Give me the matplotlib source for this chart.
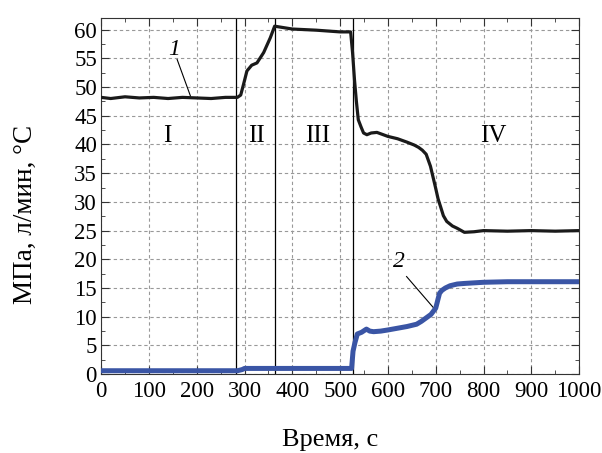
import numpy as np
import matplotlib.pyplot as plt
from matplotlib.ticker import MultipleLocator

plt.rcParams['font.family'] = ['Liberation Serif', 'DejaVu Serif']

# curve 1 (black)
t1 = [0, 20, 50, 80, 110, 140, 170, 200, 230, 260, 285, 292, 298, 305, 315, 326,
      340, 354, 363, 370, 400, 450, 500, 522, 526, 530, 534, 538, 544, 549, 556,
      565, 577, 600, 620, 640, 655, 664, 672, 680, 689, 699, 705, 710, 716, 723,
      735, 745, 760, 780, 800, 850, 900, 950, 1000]
v1 = [48.2, 48.0, 48.3, 48.1, 48.2, 48.0, 48.2, 48.1, 48.0, 48.2, 48.2, 48.6, 50.5, 52.8, 53.8, 54.2,
      56.0, 58.6, 60.6, 60.5, 60.1, 59.9, 59.6, 59.6, 56.0, 51.3, 47.5, 44.3, 43.0, 42.0, 41.7,
      42.0, 42.1, 41.4, 41.0, 40.4, 39.9, 39.5, 39.0, 38.3, 36.2, 32.7, 30.5, 29.2, 27.6, 26.6,
      25.8, 25.4, 24.7, 24.8, 25.0, 24.9, 25.0, 24.9, 25.0]

# curve 2 (blue)
t2 = [0, 100, 200, 285, 295, 300, 400, 500, 524, 527, 531, 536, 545, 555, 562, 570,
      585, 600, 620, 640, 660, 670, 680, 690, 700, 704, 708, 713, 720, 730, 745,
      760, 800, 850, 900, 950, 1000]
v2 = [0.6, 0.6, 0.6, 0.6, 0.8, 1.0, 1.0, 1.0, 1.0, 4.0, 5.5, 7.0, 7.3, 7.85, 7.5, 7.4,
      7.5, 7.7, 8.0, 8.3, 8.7, 9.2, 9.8, 10.4, 11.5, 12.8, 14.1, 14.6, 15.0, 15.4, 15.7,
      15.8, 16.0, 16.1, 16.1, 16.1, 16.1]

boundaries = [283, 363, 526]
zone_names = ['I', 'II', 'III', 'IV']
zone_x = [138, 326, 452, 821]
zone_y = 41.4

fig = plt.figure(figsize=(6.02, 4.53), dpi=100)
ax = fig.add_axes([0.168, 0.174, 0.794, 0.786])

ax.plot(t1, v1, color='#1a1a1a', lw=2.3, zorder=3)
ax.plot(t2, v2, color='#3a55a5', lw=3.6, zorder=3)

for b in boundaries:
    ax.axvline(b, color='black', lw=0.9, zorder=2)

for name, x in zip(zone_names, zone_x):
    ax.text(x, zone_y, name, fontsize=18, ha='center', va='center')

# curve numbers
ax.text(153, 56.5, '1', fontsize=17, style='italic', ha='center', va='center')
ax.plot([159, 187], [54.8, 48.4], color='black', lw=0.8)
ax.text(622, 19.6, '2', fontsize=17, style='italic', ha='center', va='center')
ax.plot([639, 696], [17.0, 11.5], color='black', lw=0.8)

ax.set_xlim(0, 1000)
ax.set_ylim(0, 62)
ax.xaxis.set_major_locator(MultipleLocator(100))
ax.xaxis.set_minor_locator(MultipleLocator(50))
ax.yaxis.set_major_locator(MultipleLocator(5))
ax.yaxis.set_minor_locator(MultipleLocator(2.5))
ax.tick_params(which='both', direction='in', top=True, right=True, labelsize=16.5,
               color='#333333')
ax.tick_params(which='major', length=6)
ax.tick_params(which='minor', length=3)
ax.tick_params(axis='x', pad=5)
ax.tick_params(axis='y', pad=3)
for s in ax.spines.values():
    s.set_color('#333333')
ax.grid(True, which='major', linestyle='--', color='#999999', lw=0.8, dashes=(3, 2.5))
ax.set_axisbelow(True)

ax.set_xlabel('Время, с', fontsize=19)
ax.set_ylabel('МПа, л/мин, °С', fontsize=19.5)
ax.xaxis.set_label_coords(0.479, -0.155)
ax.yaxis.set_label_coords(-0.132, 0.449)

fig.savefig('out.png', dpi=100)
